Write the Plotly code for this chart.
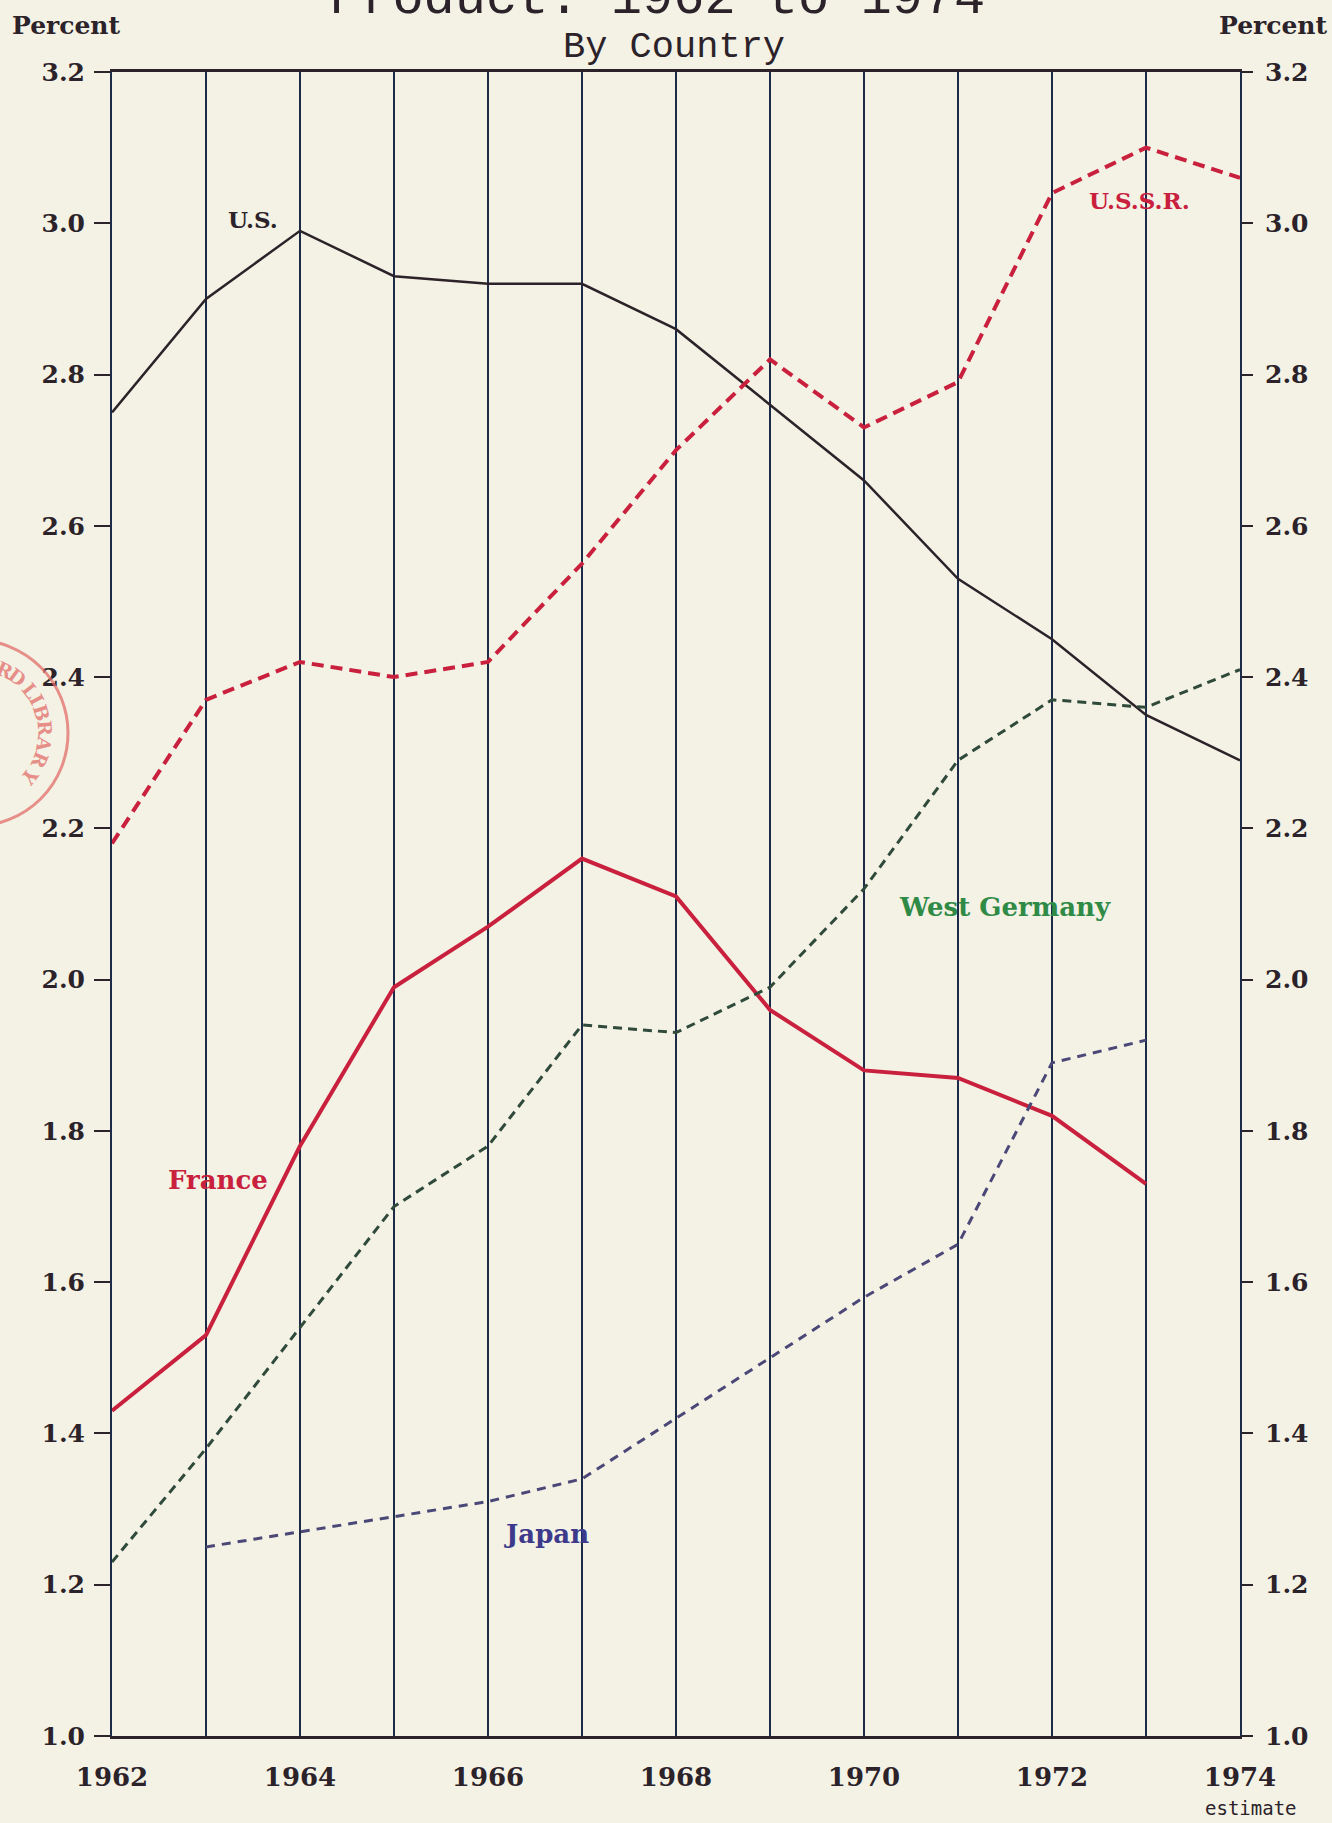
import math
import plotly.graph_objects as go

# ---- data: defence spending as percent of GNP, by country ----
years = [1962, 1963, 1964, 1965, 1966, 1967, 1968, 1969, 1970, 1971, 1972, 1973, 1974]
year_labels = ["1962", "", "1964", "", "1966", "", "1968", "", "1970", "", "1972", "", "1974"]

us = [2.75, 2.90, 2.99, 2.93, 2.92, 2.92, 2.86, 2.76, 2.66, 2.53, 2.45, 2.35, 2.29]
ussr = [2.18, 2.37, 2.42, 2.40, 2.42, 2.55, 2.70, 2.82, 2.73, 2.79, 3.04, 3.10, 3.06]
west_germany = [1.23, 1.38, 1.54, 1.70, 1.78, 1.94, 1.93, 1.99, 2.12, 2.29, 2.37, 2.36, 2.41]

france_years = [1962, 1963, 1964, 1965, 1966, 1967, 1968, 1969, 1970, 1971, 1972, 1973]
france = [1.43, 1.53, 1.78, 1.99, 2.07, 2.16, 2.11, 1.96, 1.88, 1.87, 1.82, 1.73]

japan_years = [1963, 1964, 1965, 1966, 1967, 1968, 1969, 1970, 1971, 1972, 1973]
japan = [1.25, 1.27, 1.29, 1.31, 1.34, 1.42, 1.50, 1.58, 1.65, 1.89, 1.92]

y_ticks = [1.0, 1.2, 1.4, 1.6, 1.8, 2.0, 2.2, 2.4, 2.6, 2.8, 3.0, 3.2]

# ---- page geometry ----
W, H = 1332, 1823
L, R, T, B = 112, 1240, 72, 1736

PAPER = "#f4f1e5"
GRID = "#1d2b48"
INK = "#2b2329"
RED = "#c9203d"
GREEN_LINE = "#2f4a3a"
GREEN_TEXT = "#2f8a45"
JAPAN_LINE = "#4b4878"
JAPAN_TEXT = "#3d3a8c"
STAMP = "rgba(226,110,105,0.75)"

SERIF_BOLD = "DejaVu Serif"
MONO = "Liberation Mono"


def px_x(px):
    return (px - L) / (R - L)


def px_y(py):
    return (B - py) / (B - T)


fig = go.Figure()

fig.add_trace(go.Scatter(x=years, y=us, mode="lines", name="U.S.",
                         line=dict(color=INK, width=2.5)))
fig.add_trace(go.Scatter(x=years, y=ussr, mode="lines", name="U.S.S.R.",
                         line=dict(color=RED, width=4, dash="12px,7px")))
fig.add_trace(go.Scatter(x=france_years, y=france, mode="lines", name="France",
                         line=dict(color=RED, width=4)))
fig.add_trace(go.Scatter(x=years, y=west_germany, mode="lines", name="West Germany",
                         line=dict(color=GREEN_LINE, width=3, dash="9px,6px")))
fig.add_trace(go.Scatter(x=japan_years, y=japan, mode="lines", name="Japan",
                         line=dict(color=JAPAN_LINE, width=3, dash="9px,7px")))
# invisible trace so the right-hand percent scale is drawn
fig.add_trace(go.Scatter(x=[years[0]], y=[y_ticks[0]], yaxis="y2", mode="markers",
                         marker=dict(opacity=0), showlegend=False, hoverinfo="skip"))

tick_font = dict(family=SERIF_BOLD, size=25, color=INK, weight="bold")
x_tick_font = dict(family=SERIF_BOLD, size=26, color=INK, weight="bold")

fig.update_layout(
    width=W, height=H,
    margin=dict(l=L, r=W - R, t=T, b=H - B, pad=0),
    paper_bgcolor=PAPER, plot_bgcolor=PAPER,
    showlegend=False,
    xaxis=dict(
        range=[years[0], years[-1]],
        tickvals=years, ticktext=year_labels,
        ticks="", showgrid=True, gridcolor=GRID, gridwidth=2,
        zeroline=False, showline=True, linecolor=INK, linewidth=3, mirror=True,
        tickfont=x_tick_font, ticklabelstandoff=16,
    ),
    yaxis=dict(
        range=[y_ticks[0], y_ticks[-1]],
        tickvals=y_ticks, tickformat=".1f",
        ticks="outside", ticklen=16, tickwidth=2, tickcolor=INK,
        showgrid=False, zeroline=False,
        showline=True, linecolor=GRID, linewidth=2,
        tickfont=tick_font, ticklabelstandoff=4,
    ),
    yaxis2=dict(
        range=[y_ticks[0], y_ticks[-1]],
        tickvals=y_ticks, tickformat=".1f",
        overlaying="y", side="right",
        ticks="outside", ticklen=11, tickwidth=2, tickcolor=INK,
        showgrid=False, zeroline=False,
        showline=True, linecolor=GRID, linewidth=2,
        tickfont=tick_font, ticklabelstandoff=7,
    ),
)

annotations = []

# titles (the top line runs off the top edge of the page)
annotations.append(dict(text="Product: 1962 to 1974", xref="paper", yref="paper",
                        x=px_x(657), y=px_y(31), xanchor="center", yanchor="bottom",
                        showarrow=False, font=dict(family=MONO, size=52, color=INK)))
annotations.append(dict(text="By Country", xref="paper", yref="paper",
                        x=px_x(674), y=px_y(47), xanchor="center", yanchor="middle",
                        showarrow=False, font=dict(family=MONO, size=37, color=INK)))

# axis captions
for cx in (66, 1273):
    annotations.append(dict(text="Percent", xref="paper", yref="paper",
                            x=px_x(cx), y=px_y(26), xanchor="center", yanchor="middle",
                            showarrow=False,
                            font=dict(family=SERIF_BOLD, size=25, color=INK, weight="bold")))

annotations.append(dict(text="estimate", xref="paper", yref="paper",
                        x=px_x(1251), y=px_y(1808), xanchor="center", yanchor="middle",
                        showarrow=False, font=dict(family="DejaVu Sans Mono", size=19, color=INK)))

# series labels, placed in data coordinates
series_labels = [
    ("U.S.", 1963.5, 3.005, INK, 23),
    ("U.S.S.R.", 1972.93, 3.03, RED, 23),
    ("France", 1963.13, 1.735, RED, 26),
    ("West Germany", 1971.5, 2.096, GREEN_TEXT, 26),
    ("Japan", 1966.62, 1.267, JAPAN_TEXT, 26),
]
for text, lx, ly, col, fs in series_labels:
    annotations.append(dict(text=text, x=lx, y=ly, xref="x", yref="y",
                            xanchor="center", yanchor="middle", showarrow=False,
                            font=dict(family=SERIF_BOLD, size=fs, color=col, weight="bold")))

# library stamp at the left margin
scx, scy, sr = -25, 733, 93
stamp_letters = [("R", 25), ("D", 37), ("L", 52), ("I", 62), ("B", 73),
                 ("R", 86), ("A", 99), ("R", 113), ("Y", 128)]
for ch, ang in stamp_letters:
    a = math.radians(ang)
    lx = scx + 70 * math.sin(a)
    ly = scy - 70 * math.cos(a)
    annotations.append(dict(text=ch, xref="paper", yref="paper",
                            x=px_x(lx), y=px_y(ly), xanchor="center", yanchor="middle",
                            showarrow=False, textangle=ang,
                            font=dict(family=SERIF_BOLD, size=19, color=STAMP, weight="bold")))

fig.update_layout(annotations=annotations)

fig.add_shape(type="circle", xref="paper", yref="paper",
              x0=px_x(scx - sr), x1=px_x(scx + sr), y0=px_y(scy + sr), y1=px_y(scy - sr),
              line=dict(color=STAMP, width=3), layer="above")

fig.write_html("out.html")
